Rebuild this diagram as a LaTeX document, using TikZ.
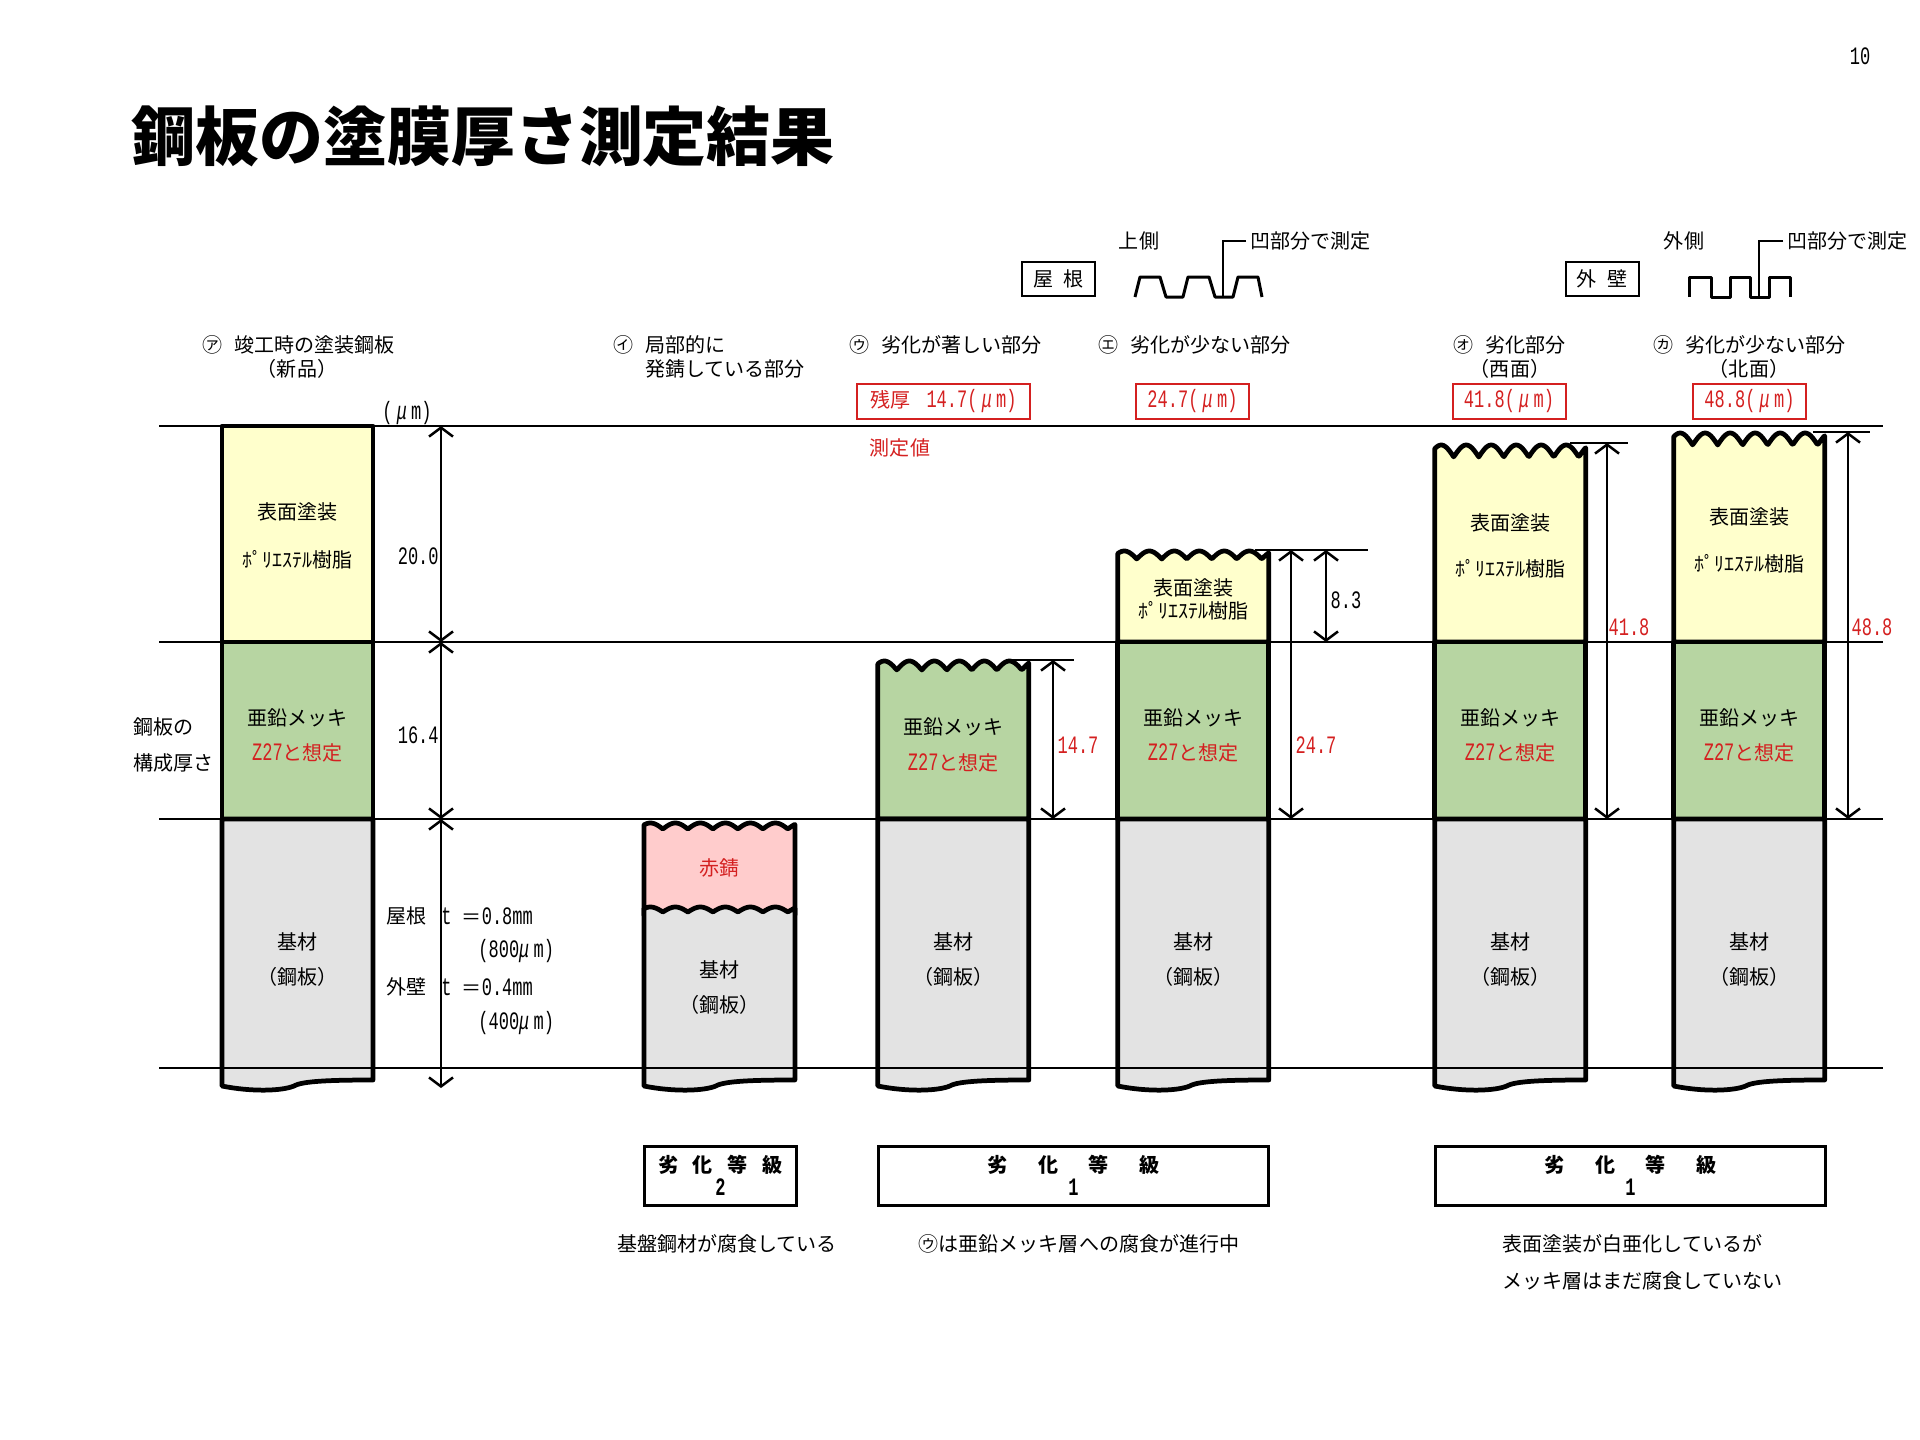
\documentclass[tikz,border=0pt]{standalone}
\usepackage{xcolor}
\usepackage{fontspec}
\usepackage{tikz}
\usetikzlibrary{arrows.meta,calc,positioning}
\setmainfont{Noto Sans CJK JP}
\newfontfamily\hw[Scale=1.25,FakeStretch=0.68]{Liberation Mono}
\definecolor{kirmiziYazi}{HTML}{D42020}
\definecolor{kaplamaSari}{HTML}{FFFFCC}
\definecolor{cinkoYesil}{HTML}{B7D5A2}
\definecolor{tabanGri}{HTML}{E3E3E3}
\definecolor{pasPembe}{HTML}{FFCCCC}
\tikzset{
  lbl/.style={inner sep=0pt,font=\fontsize{11.4}{14}\selectfont},
  redlbl/.style={lbl,text=kirmiziYazi},
  numlbl/.style={lbl,font=\fontsize{11.4}{14}\selectfont\hw},
  rednum/.style={numlbl,text=kirmiziYazi},
  plate/.style={draw=black,line width=0.095cm,line join=round},
  hline/.style={black,line width=0.035cm},
  dimline/.style={line width=0.05cm,{Straight Barb[length=1.8mm,width=4.8mm]}-{Straight Barb[length=1.8mm,width=4.8mm]}},
  leader/.style={line width=0.03cm},
  redbox/.style={redlbl,draw=kirmiziYazi,line width=0.04cm,minimum height=0.7cm},
  blackbox/.style={lbl,draw=black,line width=0.04cm,minimum width=1.46cm,minimum height=0.68cm},
  gradebox/.style={lbl,align=center,draw=black,line width=0.06cm,minimum height=1.18cm,font=\fontsize{11.4}{13}\selectfont\bfseries},
  profile/.style={line width=0.06cm,line join=round}
}
\newcommand{\tornLayer}[4]{\draw[plate,fill=#1] (0,#4) -- plot[domain=0:151,samples=121] (\x,{#2+#3-#3*abs(sin(7.2*(\x+6)))}) -- (151,#4) -- cycle;}
\newcommand{\tornBottom}{-- (151,1080) .. controls (110,1080) and (80,1081) .. (72,1086) .. controls (60,1091) and (30,1092) .. (0,1086)}
\newcommand{\um}{{\hw(\,}{\hw\itshape μ}{\hw\,m)}}
\newcommand{\resinTxt}{ﾎﾟﾘｴｽﾃﾙ樹脂}
\newcommand{\markgap}{\hspace{0.6em}}
\begin{document}
\begin{tikzpicture}[x=0.02cm,y=-0.02cm]
\useasboundingbox (0,0) rectangle (1920,1440);
\node[numlbl] (pageNo) at (1860,56) {10};
\node[lbl,anchor=west,font=\fontsize{36.4}{40}\selectfont\bfseries] (mainTitle) at (131,136) {鋼板の塗膜厚さ測定結果};
% roof and wall
\node[blackbox] (roofBox) at (1058.5,279) {屋\hspace{0.5em}根};
\node[lbl] (roofUp) at (1139,241) {上側};
\node[lbl,anchor=west] (roofNote) at (1250,241) {凹部分で測定};
\draw[profile] (1135,297)--(1140,277)--(1160,277)--(1166,297)--(1183,297)--(1188,277)--(1209,277)--(1215,297)--(1233,297)--(1238,277)--(1258,277)--(1262,297);
\coordinate (roofPt) at (1223,297);
\draw[leader] ([xshift=-0.08cm]roofNote.west) -| (roofPt);
\node[blackbox] (wallBox) at (1602,279) {外\hspace{0.5em}壁};
\node[lbl] (wallOut) at (1684,241) {外側};
\node[lbl,anchor=west] (wallNote) at (1787,241) {凹部分で測定};
\draw[profile] (1689,297)--(1689,277)--(1711,277)--(1711,297)--(1730,297)--(1730,277)--(1750,277)--(1750,297)--(1769,297)--(1769,277)--(1790,277)--(1790,297);
\coordinate (wallPt) at (1759,297);
\draw[leader] ([xshift=-0.08cm]wallNote.west) -| (wallPt);
% headings
\node[lbl,anchor=west] (headA) at (202,345) {㋐\markgap 竣工時の塗装鋼板};
\node[lbl] (headA2) at (297,369) {（新品）};
\node[lbl,anchor=west] (headB) at (613,345) {㋑\markgap 局部的に};
\node[lbl,anchor=west] (headB2) at (645,369) {発錆している部分};
\node[lbl,anchor=west] (headC) at (849,345) {㋒\markgap 劣化が著しい部分};
\node[lbl,anchor=west] (headD) at (1098,345) {㋓\markgap 劣化が少ない部分};
\node[lbl,anchor=west] (headE) at (1453,345) {㋔\markgap 劣化部分};
\node[lbl] (headE2) at (1510,369) {（西面）};
\node[lbl,anchor=west] (headF) at (1653,345) {㋕\markgap 劣化が少ない部分};
\node[lbl] (headF2) at (1749,369) {（北面）};
\node[redbox,minimum width=3.46cm] (valC) at (943.5,401.5) {残厚\hspace{0.8em}{\hw 14.7}\um};
\node[redbox,minimum width=2.26cm] (valD) at (1192.5,401.5) {{\hw 24.7}\um};
\node[redbox,minimum width=2.26cm] (valE) at (1509,401.5) {{\hw 41.8}\um};
\node[redbox,minimum width=2.26cm] (valF) at (1749.5,401.5) {{\hw 48.8}\um};
\node[redlbl] (measTxt) at (900,448) {測定値};
\node[lbl] (unitTxt) at (407,413) {\um};
\node[lbl,anchor=west] (sideA) at (133,727) {鋼板の};
\node[lbl,anchor=west] (sideB) at (133,763) {構成厚さ};
% columns
\begin{scope}[xshift=4.44cm]
\draw[plate,fill=kaplamaSari] (0,426) rectangle (151,642);
\draw[plate,fill=cinkoYesil] (0,642) rectangle (151,819);
\draw[plate,fill=tabanGri] (0,819) -- (151,819) \tornBottom -- cycle;
\node[lbl] (aCoat) at (75.5,512) {表面塗装};
\node[lbl] (aResin) at (75.5,560) {\resinTxt};
\node[lbl] (aZinc) at (75.5,718) {亜鉛メッキ};
\node[redlbl] (aZ) at (75.5,753) {{\hw Z27}と想定};
\node[lbl] (aBase) at (75.5,942) {基材};
\node[lbl] (aSteel) at (75.5,977) {（鋼板）};
\end{scope}
\begin{scope}[xshift=12.88cm]
\tornLayer{pasPembe}{823}{6}{915}
\draw[plate,fill=tabanGri] plot[domain=0:151,samples=121] (\x,{907+5-5*abs(sin(7.2*(\x+6)))}) \tornBottom -- cycle;
\node[redlbl] (bRust) at (75.5,868) {赤錆};
\node[lbl] (bBase) at (75.5,970) {基材};
\node[lbl] (bSteel) at (75.5,1005) {（鋼板）};
\end{scope}
\begin{scope}[xshift=17.56cm]
\tornLayer{cinkoYesil}{661}{9}{819}
\draw[plate,fill=tabanGri] (0,819) -- (151,819) \tornBottom -- cycle;
\node[lbl] (cZinc) at (75.5,727) {亜鉛メッキ};
\node[redlbl] (cZ) at (75.5,763) {{\hw Z27}と想定};
\node[lbl] (cBase) at (75.5,942) {基材};
\node[lbl] (cSteel) at (75.5,977) {（鋼板）};
\end{scope}
\begin{scope}[xshift=22.36cm]
\tornLayer{kaplamaSari}{551}{8}{642}
\draw[plate,fill=cinkoYesil] (0,642) rectangle (151,819);
\draw[plate,fill=tabanGri] (0,819) -- (151,819) \tornBottom -- cycle;
\node[lbl] (dCoat) at (75.5,588) {表面塗装};
\node[lbl] (dResin) at (75.5,611) {\resinTxt};
\node[lbl] (dZinc) at (75.5,718) {亜鉛メッキ};
\node[redlbl] (dZ) at (75.5,753) {{\hw Z27}と想定};
\node[lbl] (dBase) at (75.5,942) {基材};
\node[lbl] (dSteel) at (75.5,977) {（鋼板）};
\end{scope}
\begin{scope}[xshift=28.7cm]
\tornLayer{kaplamaSari}{445}{12}{642}
\draw[plate,fill=cinkoYesil] (0,642) rectangle (151,819);
\draw[plate,fill=tabanGri] (0,819) -- (151,819) \tornBottom -- cycle;
\node[lbl] (eCoat) at (75.5,523) {表面塗装};
\node[lbl] (eResin) at (75.5,569) {\resinTxt};
\node[lbl] (eZinc) at (75.5,718) {亜鉛メッキ};
\node[redlbl] (eZ) at (75.5,753) {{\hw Z27}と想定};
\node[lbl] (eBase) at (75.5,942) {基材};
\node[lbl] (eSteel) at (75.5,977) {（鋼板）};
\end{scope}
\begin{scope}[xshift=33.48cm]
\tornLayer{kaplamaSari}{433}{12}{642}
\draw[plate,fill=cinkoYesil] (0,642) rectangle (151,819);
\draw[plate,fill=tabanGri] (0,819) -- (151,819) \tornBottom -- cycle;
\node[lbl] (fCoat) at (75.5,517) {表面塗装};
\node[lbl] (fResin) at (75.5,564) {\resinTxt};
\node[lbl] (fZinc) at (75.5,718) {亜鉛メッキ};
\node[redlbl] (fZ) at (75.5,753) {{\hw Z27}と想定};
\node[lbl] (fBase) at (75.5,942) {基材};
\node[lbl] (fSteel) at (75.5,977) {（鋼板）};
\end{scope}
\foreach \y in {426,642,819,1068} \draw[hline] (159,\y)--(1883,\y);
% dimensions
\coordinate (p1) at (441,426); \coordinate (p2) at (441,642); \coordinate (p3) at (441,819); \coordinate (p4) at (441,1088);
\draw[dimline] (p1)--(p2); \draw[dimline] (p2)--(p3); \draw[dimline] (p3)--(p4);
\node[numlbl,anchor=east] (dim20) at (439,556) {20.0};
\node[numlbl,anchor=east] (dim16) at (439,735) {16.4};
\node[lbl,anchor=west] (roofThk) at (386,916) {屋根};
\node[lbl,anchor=west] (roofT) at (441,916) {{\hw t }＝{\hw 0.8mm}};
\node[lbl,anchor=west] (roofUm) at (478,951) {{\hw(800}{\hw\itshape μ}{\hw\,m)}};
\node[lbl,anchor=west] (wallThk) at (386,987) {外壁};
\node[lbl,anchor=west] (wallT) at (441,987) {{\hw t }＝{\hw 0.4mm}};
\node[lbl,anchor=west] (wallUm) at (478,1023) {{\hw(400}{\hw\itshape μ}{\hw\,m)}};
\coordinate (c1) at (1053,660); \coordinate (c2) at (1053,819); \coordinate (c3) at (1074,660); \coordinate (c0) at (1010,660);
\draw[dimline] (c1)--(c2); \draw[leader] (c0)--(c3);
\node[rednum] (dimC) at (1078,745) {14.7};
\coordinate (d1) at (1291,550); \coordinate (d2) at (1291,819); \coordinate (d3) at (1326,550); \coordinate (d4) at (1326,642); \coordinate (d0) at (1255,550); \coordinate (d5) at (1368,550);
\draw[dimline] (d1)--(d2); \draw[dimline] (d3)--(d4); \draw[leader] (d0)--(d5);
\node[numlbl] (dimD1) at (1346,600) {8.3};
\node[rednum] (dimD2) at (1316,745) {24.7};
\coordinate (e1) at (1607,443); \coordinate (e2) at (1607,819); \coordinate (e0) at (1570,443); \coordinate (e3) at (1628,443);
\draw[dimline] (e1)--(e2); \draw[leader] (e0)--(e3);
\node[rednum] (dimE) at (1629,627) {41.8};
\coordinate (f1) at (1848,432); \coordinate (f2) at (1848,819); \coordinate (f0) at (1813,432); \coordinate (f3) at (1870,432);
\draw[dimline] (f1)--(f2); \draw[leader] (f0)--(f3);
\node[rednum] (dimF) at (1872,627) {48.8};
% grades
\node[gradebox,minimum width=3.06cm] (gradeB) at (720.5,1175.5) {劣\hspace{8.5pt}化\hspace{8.5pt}等\hspace{8.5pt}級\\{\hw 2}};
\node[gradebox,minimum width=7.82cm] (gradeC) at (1073.5,1175.5) {劣\hspace{17.5pt}化\hspace{17.5pt}等\hspace{17.5pt}級\\{\hw 1}};
\node[gradebox,minimum width=7.82cm] (gradeE) at (1630.5,1175.5) {劣\hspace{17.5pt}化\hspace{17.5pt}等\hspace{17.5pt}級\\{\hw 1}};
\node[lbl] (noteB) at (727,1244) {基盤鋼材が腐食している};
\node[lbl] (noteC) at (1079,1244) {㋒は亜鉛メッキ層への腐食が進行中};
\node[lbl,anchor=west] (noteE) at (1502,1244) {表面塗装が白亜化しているが};
\node[lbl,anchor=west] (noteE2) at (1502,1281) {メッキ層はまだ腐食していない};
\end{tikzpicture}
\end{document}
